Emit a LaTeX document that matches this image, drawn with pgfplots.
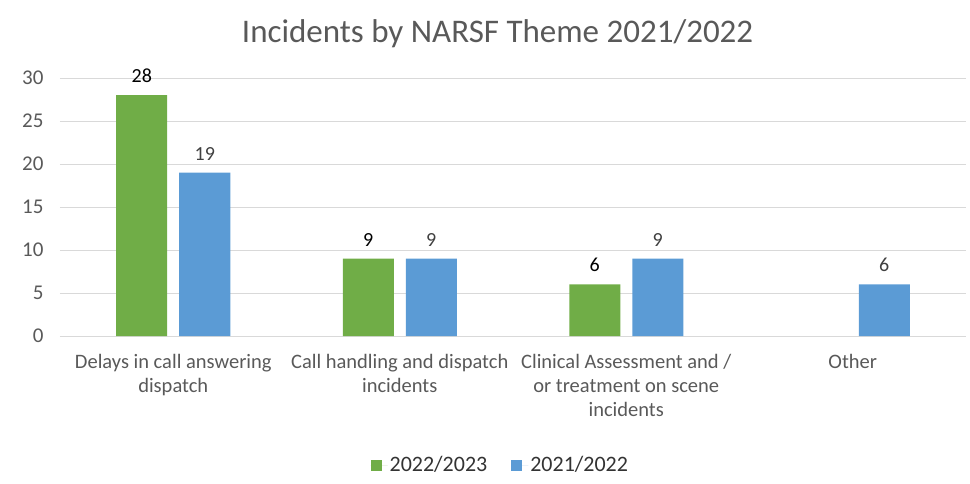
\documentclass[border=0pt]{standalone}
\usepackage{pgfplots}
\pgfplotsset{compat=1.18}
\usepackage{fontspec}
\setmainfont{Carlito}
\definecolor{cgreen}{HTML}{70AD47}
\definecolor{cblue}{HTML}{5B9BD5}
\definecolor{cgrid}{HTML}{D9D9D9}
\definecolor{ctext}{HTML}{595959}
\begin{document}
\begin{tikzpicture}
\begin{axis}[
  at={(0pt,0pt)}, anchor=south west,
  scale only axis, width=906pt, height=258pt,
  ymin=0, ymax=30, xmin=-0.5, xmax=3.5,
  ytick={0,5,10,15,20,25,30},
  xtick={0,1,2,3},
  xticklabels={{Delays in call answering\\dispatch},{Call handling and dispatch\\incidents},{Clinical Assessment and /\\or treatment on scene\\incidents},{Other}},
  xticklabel style={align=center, font=\fontsize{20.5}{24}\selectfont, text=ctext, yshift=-15pt},
  yticklabel style={font=\fontsize{21}{22}\selectfont, text=ctext, xshift=-13pt},
  /pgf/number format/assume math mode=true,
  major tick length=0pt,
  axis line style={draw=none},
  ymajorgrids, grid style={cgrid, line width=1pt},
  ybar=12pt, bar width=51pt,
  title={Incidents by NARSF Theme 2021/2022},
  title style={at={(0.483,1.15)}, anchor=center, font=\fontsize{33}{36}\selectfont, text=ctext},
  legend style={at={(0.486,-0.5)}, anchor=center, draw=none, legend columns=2,
    font=\fontsize{22}{24}\selectfont, text=black!80,
    /tikz/every even column/.append style={column sep=22pt}},
  legend image code/.code={\fill[#1] (0pt,-5.5pt) rectangle (11pt,5.5pt); \path (0pt,0pt) -- (17pt,0pt);},
  nodes near coords,
  nodes near coords style={font=\fontsize{20}{22}\selectfont, anchor=south, yshift=9pt},
]
\addplot[fill=cgreen, draw=none, nodes near coords style={text=black}] coordinates {(0,28) (1,9) (2,6)};
\addplot[fill=cblue, draw=none, nodes near coords style={text=black!75}] coordinates {(0,19) (1,9) (2,9) (3,6)};
\legend{2022/2023,2021/2022}
\end{axis}
\pgfresetboundingbox
\path (-60pt,-147pt) rectangle (910pt,336pt);
\end{tikzpicture}
\end{document}
